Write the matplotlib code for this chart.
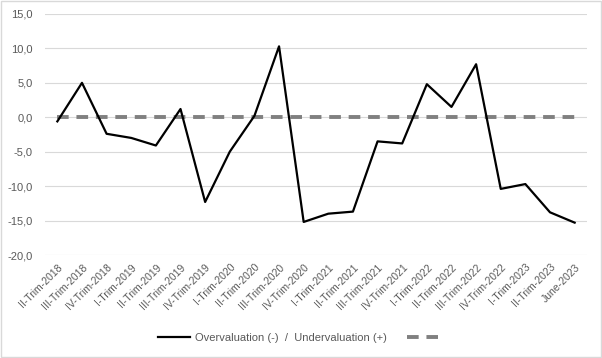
import matplotlib
matplotlib.use("Agg")
import matplotlib.pyplot as plt
from matplotlib.patches import Rectangle

categories = ["II-Trim-2018", "III-Trim-2018", "IV-Trim-2018", "I-Trim-2019", "II-Trim-2019",
              "III-Trim-2019", "IV-Trim-2019", "I-Trim-2020", "II-Trim-2020", "III-Trim-2020",
              "IV-Trim-2020", "I-Trim-2021", "II-Trim-2021", "III-Trim-2021", "IV-Trim-2021",
              "I-Trim-2022", "II-Trim-2022", "III-Trim-2022", "IV-Trim-2022", "I-Trim-2023",
              "II-Trim-2023", "June-2023"]
valuation = [-0.6, 5.0, -2.4, -3.0, -4.1, 1.2, -12.3, -5.0, 0.2, 10.3,
             -15.2, -14.0, -13.7, -3.5, -3.8, 4.8, 1.5, 7.7, -10.4, -9.7,
             -13.8, -15.3]
reference = [0.0] * len(categories)
yticks = [-20, -15, -10, -5, 0, 5, 10, 15]

plt.rcParams['font.family'] = ['Liberation Sans', 'DejaVu Sans']

fig = plt.figure(figsize=(6.02, 3.58), dpi=100)
ax = fig.add_axes([0.0748, 0.2877, 0.9002, 0.6733])

x = list(range(len(categories)))
ax.plot(x, reference, color="#808080", lw=2.8, dashes=(3.0, 2.0), zorder=3,
        label=" ", dash_capstyle='butt')
ax.plot(x, valuation, color="black", lw=1.6, zorder=4,
        label="Overvaluation (-)  /  Undervaluation (+)")

ax.set_xlim(-0.5, len(categories) - 0.5)
ax.set_ylim(-20, 15)
ax.set_yticks(yticks)
ax.set_yticklabels([f"{v:.1f}".replace(".", ",") for v in yticks], color="#595959", fontsize=8)
ax.set_xticks(x)
ax.set_xticklabels(categories, rotation=45, ha="right", rotation_mode="anchor",
                   color="#595959", fontsize=7.5)
ax.tick_params(axis='both', length=0)
ax.tick_params(axis='y', pad=9)
ax.tick_params(axis='x', pad=5)
ax.grid(axis='y', color="#d9d9d9", lw=0.8)
ax.set_axisbelow(True)
for s in ax.spines.values():
    s.set_visible(False)

handles, labels = ax.get_legend_handles_labels()
leg = fig.legend([handles[1], handles[0]], [labels[1], ""], loc="center",
                 bbox_to_anchor=(0.5, 0.055), ncol=2, frameon=False, fontsize=8,
                 handlelength=2.8, columnspacing=1.8, handletextpad=0.5)
for t in leg.get_texts():
    t.set_color("#595959")

fig.patches.append(Rectangle((0.002, 0.003), 0.996, 0.994, transform=fig.transFigure,
                             fill=False, edgecolor="#d9d9d9", lw=1))

fig.savefig("out.png", dpi=100, facecolor="white")
